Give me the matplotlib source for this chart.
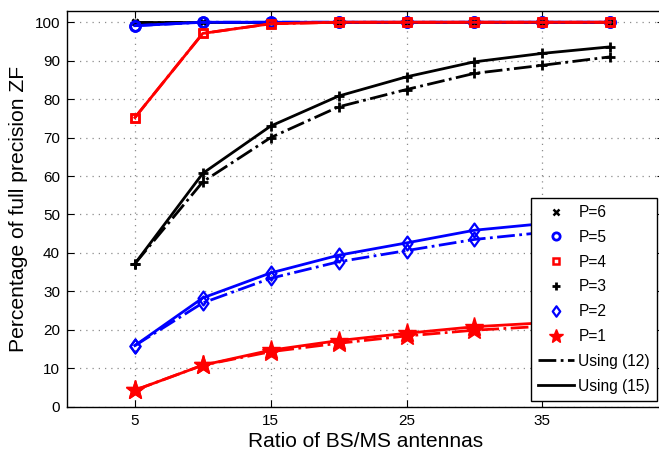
import matplotlib
matplotlib.use('Agg')
import matplotlib.pyplot as plt
from matplotlib.lines import Line2D
from matplotlib.path import Path

plt.rcParams['font.family'] = ['Liberation Sans', 'DejaVu Sans']

ratio = [5, 10, 15, 20, 25, 30, 35, 40]

# using (12) = dash-dot, using (15) = solid
p6_12 = [100, 100, 100, 100, 100, 100, 100, 100]
p6_15 = [100, 100, 100, 100, 100, 100, 100, 100]
p5_12 = [99.1, 100, 100, 100, 100, 100, 100, 100]
p5_15 = [99.1, 100, 100, 100, 100, 100, 100, 100]
p4_12 = [75.2, 97.1, 99.6, 100, 100, 100, 100, 100]
p4_15 = [75.2, 97.1, 99.6, 100, 100, 100, 100, 100]
p3_12 = [37.2, 58.5, 70.0, 78.0, 82.5, 86.7, 88.8, 91.0]
p3_15 = [37.2, 60.7, 73.0, 80.8, 85.8, 89.7, 91.9, 93.6]
p2_12 = [15.9, 27.0, 33.4, 37.7, 40.6, 43.5, 45.3, 46.8]
p2_15 = [15.9, 28.3, 34.8, 39.4, 42.6, 45.9, 47.6, 49.2]
p1_12 = [4.3, 10.8, 14.3, 16.5, 18.4, 19.9, 20.9, 21.6]
p1_15 = [4.3, 10.8, 14.7, 17.2, 19.1, 20.8, 21.8, 22.6]

# matlab style diamond (wider than mpl 'd')
diam = Path([(0, 1), (0.72, 0), (0, -1), (-0.72, 0), (0, 1)],
            [Path.MOVETO, Path.LINETO, Path.LINETO, Path.LINETO, Path.CLOSEPOLY])

series = [
    ('P=6', p6_12, p6_15, 'k', 'x', 5, 1.8, True),
    ('P=5', p5_12, p5_15, 'b', 'o', 7, 2.0, False),
    ('P=4', p4_12, p4_15, 'r', 's', 6, 1.8, False),
    ('P=3', p3_12, p3_15, 'k', '+', 7, 2.0, True),
    ('P=2', p2_12, p2_15, 'b', diam, 10, 1.6, False),
    ('P=1', p1_12, p1_15, 'r', '*', 14, 1.0, True),
]

fig = plt.figure(figsize=(6.59, 4.51), dpi=100)
# the right edge of the box is cut off in the reference
ax = fig.add_axes([67 / 659, 44.3 / 451, 597 / 659, 396 / 451])

for name, y12, y15, c, m, ms, mew, filled in series:
    fc = c if filled else 'none'
    ax.plot(ratio, y12, color=c, ls='-.', lw=2.0, marker=m, ms=ms,
            mew=mew, mfc=fc, mec=c)
    ax.plot(ratio, y15, color=c, ls='-', lw=2.0, marker=m, ms=ms,
            mew=mew, mfc=fc, mec=c)

ax.set_xlim(0, 597 / 13.58)
ax.set_ylim(0, 103)
ax.set_xticks([5, 15, 25, 35])
ax.set_yticks(range(0, 101, 10))
ax.tick_params(direction='in', labelsize=11, length=5, top=True, right=True, pad=5)
ax.grid(True, ls=(0, (1, 4)), color='#8c8c8c', lw=0.9)
for s in ax.spines.values():
    s.set_linewidth(1.0)

ax.set_xlabel('Ratio of BS/MS antennas', fontsize=15, labelpad=3)
ax.set_ylabel('Percentage of full precision ZF', fontsize=15.2, labelpad=5)

handles = []
for name, y12, y15, c, m, ms, mew, filled in series:
    fc = c if filled else 'none'
    handles.append(Line2D([], [], ls='none', color=c, marker=m, ms=ms * 0.75,
                          mew=mew, mfc=fc, mec=c))
handles.append(Line2D([], [], color='k', ls='-.', lw=2.0))
handles.append(Line2D([], [], color='k', ls='-', lw=2.0))
labels = [s[0] for s in series] + ['Using (12)', 'Using (15)']
leg = fig.legend(handles, labels, loc='upper right',
                 bbox_to_anchor=(657 / 659, 1 - 198 / 451),
                 fontsize=11.2, frameon=True, fancybox=False, framealpha=1,
                 edgecolor='k', handlelength=2.3, labelspacing=0.63,
                 borderpad=0.45, handletextpad=0.3, borderaxespad=0)
leg.get_frame().set_linewidth(1.0)

fig.savefig('out.png', dpi=100)
